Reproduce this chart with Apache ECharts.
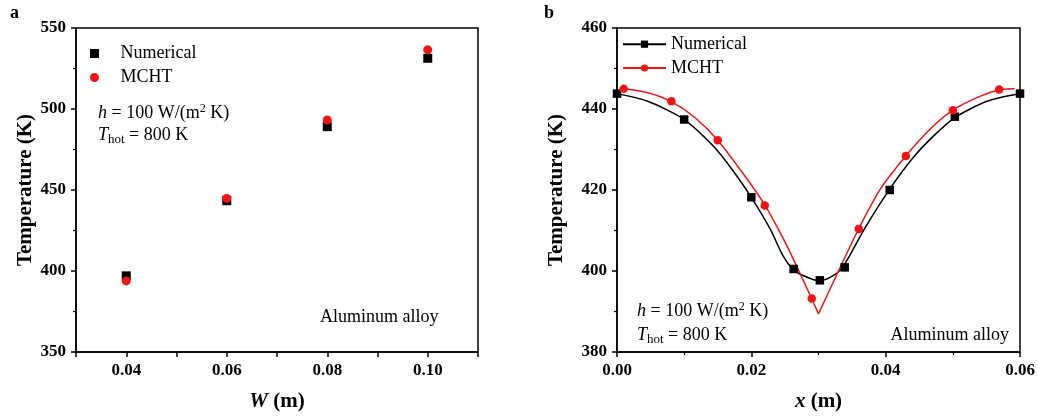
<!DOCTYPE html>
<html><head><meta charset="utf-8">
<script src="https://cdn.jsdelivr.net/npm/echarts@6/dist/echarts.min.js"></script>
<style>html,body{margin:0;padding:0;background:#fff}#c{width:1038px;height:417px}</style>
</head><body><div id="c"></div>
<script>
// ---- Panel a data ----
const widthW = [0.04, 0.06, 0.08, 0.10];
const tempNumericalA = [397.0, 443.4, 489.1, 531.3];
const tempMchtA = [393.9, 444.8, 493.2, 536.5];
const ticksAX = [0.04, 0.06, 0.08, 0.10];

// ---- Panel b data ----
const markNumX = [0, 0.01, 0.02, 0.0263, 0.0302, 0.0339, 0.0406, 0.0503, 0.06];
const markNumT = [443.8, 437.4, 418.2, 400.5, 397.7, 400.9, 420.0, 438.1, 443.8];
const markMchtX = [0.001, 0.0081, 0.015, 0.022, 0.029, 0.036, 0.043, 0.050, 0.0569];
const markMchtT = [445.0, 441.9, 432.3, 416.2, 393.2, 410.4, 428.4, 439.7, 444.8];

const curveNumX = [0, 0.0046, 0.01, 0.0143, 0.0173, 0.02, 0.0228, 0.0247, 0.0262, 0.0277, 0.030, 0.0318, 0.0336, 0.0368, 0.0406, 0.0441, 0.0471, 0.0503, 0.0551, 0.06];
const curveNumT = [443.8, 441.9, 437.4, 430.9, 424.7, 418.2, 410.4, 403.8, 400.4, 398.9, 397.6, 398.5, 400.9, 410.3, 420.2, 428.0, 433.3, 437.9, 441.9, 443.8];
const curveMchtLeftX = [0.0006, 0.0046, 0.0081, 0.0116, 0.015, 0.0188, 0.022, 0.0253, 0.0277, 0.030];
const curveMchtLeftT = [445.1, 444.0, 441.8, 437.9, 432.3, 424.0, 416.3, 406.2, 397.8, 389.4];
const curveMchtRightX = [0.030, 0.0334, 0.036, 0.0392, 0.043, 0.0466, 0.050, 0.0536, 0.0571, 0.0592];
const curveMchtRightT = [389.4, 401.5, 410.5, 420.2, 428.4, 435.0, 439.7, 442.8, 444.8, 445.0];

const FONT = '"Liberation Serif","Times New Roman",serif';
const BLACK = '#000000', RED = '#f01414';

function pairs(xs, ys) { return xs.map((x, i) => [x, ys[i]]); }

function axisBase(extra) {
  return Object.assign({
    type: 'value',
    axisLine: { show: true, onZero: false, lineStyle: { color: BLACK, width: 1.5 } },
    axisTick: { show: true, inside: false, length: 5, lineStyle: { color: BLACK, width: 1.5 } },
    minorTick: { show: true, splitNumber: 2, length: 3, lineStyle: { color: BLACK, width: 1.2 } },
    splitLine: { show: false },
    axisLabel: { color: BLACK, fontFamily: FONT, fontSize: 17, fontWeight: 'bold', margin: 10 },
    nameLocation: 'middle',
    nameTextStyle: {
      color: BLACK, fontFamily: FONT, fontSize: 21, fontWeight: 'bold',
      rich: { i: { fontStyle: 'italic', fontWeight: 'bold', fontFamily: FONT, fontSize: 21, color: BLACK } }
    }
  }, extra);
}

const richAnn = {
  i: { fontStyle: 'italic', fontFamily: FONT, fontSize: 18, lineHeight: 22, fill: BLACK },
  sup: { fontFamily: FONT, fontSize: 12, lineHeight: 16, verticalAlign: 'top', fill: BLACK },
  sub: { fontFamily: FONT, fontSize: 13, lineHeight: 6, verticalAlign: 'bottom', fill: BLACK }
};
function annText(x, y, text, align) {
  return {
    type: 'text', x: x, y: y, silent: true,
    style: { text: text, rich: richAnn, fontFamily: FONT, fontSize: 18, lineHeight: 22,
             fill: BLACK, align: align || 'left', verticalAlign: 'middle' }
  };
}

const chart = echarts.init(document.getElementById('c'), null, { renderer: 'canvas' });
chart.setOption({
  animation: false,
  backgroundColor: '#ffffff',
  grid: [
    { left: 76, top: 28, width: 402, height: 325, show: true, borderColor: BLACK, borderWidth: 1.5, backgroundColor: 'transparent' },
    { left: 617, top: 28, width: 403, height: 325, show: true, borderColor: BLACK, borderWidth: 1.5, backgroundColor: 'transparent' }
  ],
  xAxis: [
    axisBase({
      gridIndex: 0, min: 0.03, max: 0.11, interval: 0.01,
      minorTick: { show: false },
      name: '{i|W} (m)', nameGap: 39,
      axisLabel: { color: BLACK, fontFamily: FONT, fontSize: 17, fontWeight: 'bold', margin: 10,
        formatter: function (v) {
          const hit = ticksAX.some(t => Math.abs(t - v) < 1e-6);
          return hit ? v.toFixed(2) : '';
        } }
    }),
    axisBase({
      gridIndex: 1, min: 0, max: 0.06, interval: 0.02,
      name: '{i|x} (m)', nameGap: 39,
      axisLabel: { color: BLACK, fontFamily: FONT, fontSize: 17, fontWeight: 'bold', margin: 10,
        formatter: function (v) { return v.toFixed(2); } }
    })
  ],
  yAxis: [
    axisBase({ gridIndex: 0, min: 350, max: 550, interval: 50, name: 'Temperature (K)', nameGap: 40 }),
    axisBase({ gridIndex: 1, min: 380, max: 460, interval: 20, name: 'Temperature (K)', nameGap: 50 })
  ],
  legend: [
    {
      left: 90, top: 44.5, orient: 'vertical', padding: 0, itemGap: 6,
      itemWidth: 42, itemHeight: 9, selectedMode: false, symbolKeepAspect: true,
      textStyle: { color: BLACK, fontFamily: FONT, fontSize: 18, lineHeight: 9 },
      formatter: function (n) { return n.replace(/ \((a|b)\)$/, ''); },
      data: [
        { name: 'Numerical (a)', icon: 'path://M0,0H10V10H0Z' },
        { name: 'MCHT (a)', icon: 'circle' }
      ]
    },
    {
      left: 622, top: 35.2, orient: 'vertical', padding: 0, itemGap: 5.8,
      itemWidth: 43, itemHeight: 9, selectedMode: false,
      textStyle: { color: BLACK, fontFamily: FONT, fontSize: 18, lineHeight: 9 },
      formatter: function (n) { return n.replace(/ \((a|b)\)$/, ''); },
      data: ['Numerical (b)', 'MCHT (b)']
    }
  ],
  series: [
    { name: 'Numerical (a)', type: 'scatter', xAxisIndex: 0, yAxisIndex: 0, symbol: 'rect', symbolSize: 9,
      itemStyle: { color: BLACK, opacity: 1 }, data: pairs(widthW, tempNumericalA), emphasis: { disabled: true }, z: 3 },
    { name: 'MCHT (a)', type: 'scatter', xAxisIndex: 0, yAxisIndex: 0, symbol: 'circle', symbolSize: 9,
      itemStyle: { color: RED, opacity: 1 }, data: pairs(widthW, tempMchtA), emphasis: { disabled: true }, z: 4 },

    { name: 'Numerical (b)', type: 'line', xAxisIndex: 1, yAxisIndex: 1, symbol: 'rect', showSymbol: false,
      smooth: 0.25, lineStyle: { color: BLACK, width: 1.5 }, itemStyle: { color: BLACK },
      data: pairs(curveNumX, curveNumT), emphasis: { disabled: true }, z: 2 },
    { name: 'MCHT (b)', type: 'line', xAxisIndex: 1, yAxisIndex: 1, symbol: 'circle', showSymbol: false,
      smooth: 0.25, lineStyle: { color: RED, width: 1.5 }, itemStyle: { color: RED },
      data: pairs(curveMchtLeftX, curveMchtLeftT), emphasis: { disabled: true }, z: 2 },
    { name: 'MCHT (b)', type: 'line', xAxisIndex: 1, yAxisIndex: 1, symbol: 'circle', showSymbol: false,
      smooth: 0.25, lineStyle: { color: RED, width: 1.5 }, itemStyle: { color: RED },
      data: pairs(curveMchtRightX, curveMchtRightT), emphasis: { disabled: true }, z: 2 },
    { name: 'Numerical (b)', type: 'scatter', xAxisIndex: 1, yAxisIndex: 1, symbol: 'rect', symbolSize: 8.5,
      clip: false, itemStyle: { color: BLACK, opacity: 1 }, data: pairs(markNumX, markNumT), emphasis: { disabled: true }, z: 3 },
    { name: 'MCHT (b)', type: 'scatter', xAxisIndex: 1, yAxisIndex: 1, symbol: 'circle', symbolSize: 8.5,
      clip: false, itemStyle: { color: RED, opacity: 1 }, data: pairs(markMchtX, markMchtT), emphasis: { disabled: true }, z: 4 }
  ],
  graphic: [
    { type: 'text', x: 10, y: 13, silent: true,
      style: { text: 'a', fontFamily: FONT, fontSize: 18, fontWeight: 'bold', fill: BLACK, verticalAlign: 'middle' } },
    { type: 'text', x: 544, y: 13, silent: true,
      style: { text: 'b', fontFamily: FONT, fontSize: 18, fontWeight: 'bold', fill: BLACK, verticalAlign: 'middle' } },
    annText(98, 113.5, '{i|h} = 100 W/(m{sup|2} K)'),
    annText(98, 135, '{i|T}{sub|hot} = 800 K'),
    annText(320, 317.5, 'Aluminum alloy'),
    annText(637, 311.7, '{i|h} = 100 W/(m{sup|2} K)'),
    annText(637, 335, '{i|T}{sub|hot} = 800 K'),
    annText(1009, 335, 'Aluminum alloy', 'right')
  ]
});
</script>
</body></html>
